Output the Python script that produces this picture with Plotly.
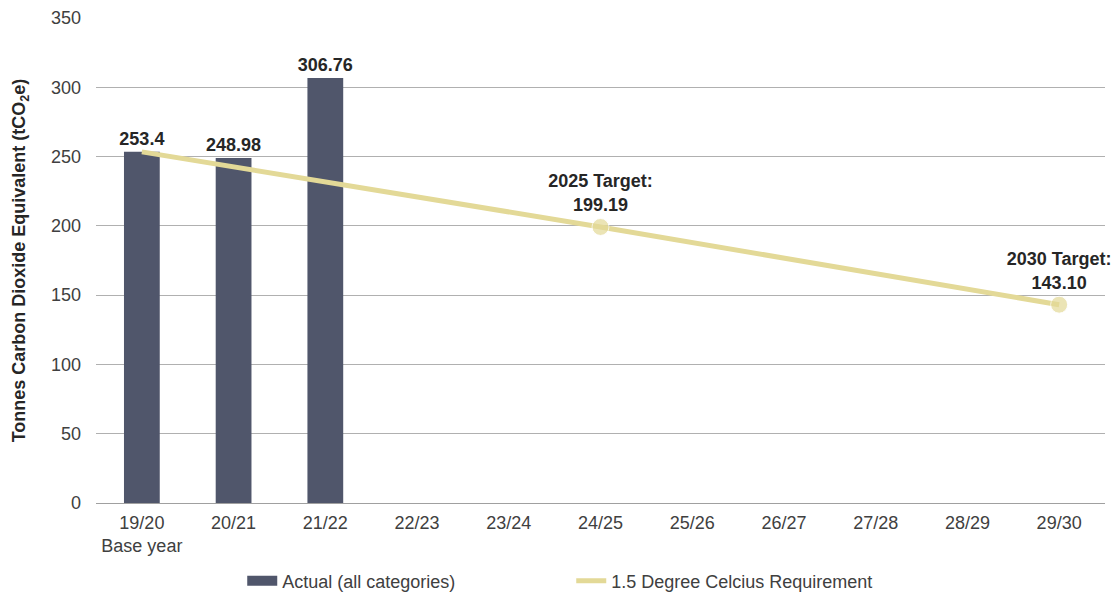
import plotly.graph_objects as go

years = ["19/20", "20/21", "21/22", "22/23", "23/24", "24/25",
         "25/26", "26/27", "27/28", "28/29", "29/30"]
tick_text = ["19/20<br>Base year", "20/21", "21/22", "22/23", "23/24", "24/25",
             "25/26", "26/27", "27/28", "28/29", "29/30"]

actual_years = ["19/20", "20/21", "21/22"]
actual_values = [253.4, 248.98, 306.76]
actual_labels = ["253.4", "248.98", "306.76"]

req_years = ["19/20", "24/25", "29/30"]
req_values = [253.4, 199.19, 143.10]
req_labels = ["", "2025 Target:<br>199.19", "2030 Target:<br>143.10"]

BAR = "#50566b"
LINE = "#e3d997"
TXT = "#262626"
FONT = "Liberation Sans, Arial, sans-serif"

fig = go.Figure()

fig.add_trace(go.Bar(
    x=actual_years, y=actual_values,
    name="Actual (all categories)",
    marker=dict(color=BAR, line=dict(width=0)),
    width=0.39,
    text=[f"<b>{t}</b>" for t in actual_labels],
    textposition="outside",
    constraintext="none",
    textfont=dict(size=18, color=TXT, family=FONT),
    cliponaxis=False,
    showlegend=False,
))

fig.add_trace(go.Scatter(
    x=req_years, y=req_values,
    name="1.5 Degree Celcius Requirement",
    mode="lines+markers+text",
    line=dict(color=LINE, width=5),
    marker=dict(color=LINE, size=[0, 17, 17]),
    text=[f"<b>{t}</b>" if t else "" for t in req_labels],
    textposition="top center",
    textfont=dict(size=18, color=TXT, family=FONT),
    cliponaxis=False,
    showlegend=False,
))

# legend entries: a thick block for the bars, a plain thick line for the requirement
fig.add_trace(go.Scatter(
    x=[None], y=[None], mode="lines", name="Actual (all categories)",
    line=dict(color=BAR, width=11),
))
fig.add_trace(go.Scatter(
    x=[None], y=[None], mode="lines", name="1.5 Degree Celcius Requirement",
    line=dict(color=LINE, width=5),
))

fig.update_layout(
    width=1114, height=594,
    margin=dict(l=96, r=9, t=18, b=91, autoexpand=False),
    plot_bgcolor="white", paper_bgcolor="white",
    font=dict(family=FONT, size=18, color="#404040"),
    bargap=0.61,
    legend=dict(orientation="h", x=0.471, xanchor="center",
                yref="container", y=0.022, yanchor="middle",
                font=dict(size=18, color="#404040"), itemwidth=30,
                traceorder="normal", entrywidthmode="pixels", entrywidth=284),
    showlegend=True,
)

fig.update_xaxes(
    type="category", categoryorder="array", categoryarray=years,
    tickmode="array", tickvals=years, ticktext=tick_text,
    showgrid=False, showline=True, linecolor="#a0a0a0", linewidth=1,
    ticks="", tickfont=dict(size=18, color="#404040"),
    ticklabelstandoff=3,
    range=[-0.5, 10.5],
)

fig.update_yaxes(
    range=[0, 350], dtick=50,
    showgrid=True, gridcolor="#b0b0b0", gridwidth=1,
    zeroline=False, showline=False, ticks="",
    tickfont=dict(size=18, color="#404040"),
    ticklabelstandoff=14,
    title=dict(text="<b>Tonnes Carbon Dioxide Equivalent (tCO<sub>2</sub>e)</b>",
               font=dict(size=18, color=TXT), standoff=20),
)

fig.write_html("out.html")
